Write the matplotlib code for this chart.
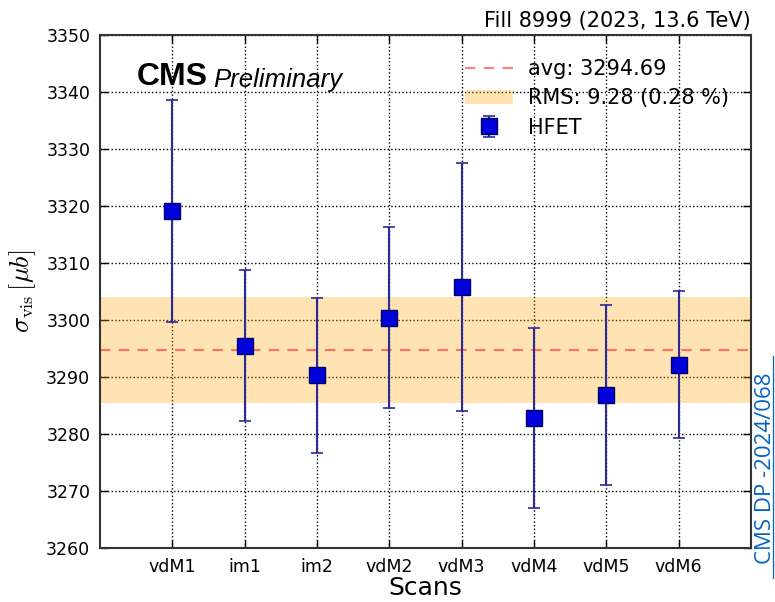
import numpy as np
import matplotlib
matplotlib.use("Agg")
import matplotlib.pyplot as plt
from matplotlib.lines import Line2D

plt.rcParams['mathtext.fontset'] = 'cm'
plt.rcParams['font.family'] = ['DejaVu Sans']

scans = ["vdM1", "im1", "im2", "vdM2", "vdM3", "vdM4", "vdM5", "vdM6"]
sigma_vis = [3319.1, 3295.5, 3290.3, 3300.4, 3305.8, 3282.8, 3286.8, 3292.1]
sigma_err = [19.5, 13.2, 13.6, 15.9, 21.8, 15.8, 15.8, 12.9]
avg = 3294.69
rms = 9.28
rms_pct = 0.28

fig = plt.figure(figsize=(7.75, 6.02), dpi=100)
ax = fig.add_axes([0.129, 0.09, 0.84, 0.852])

x = np.arange(len(scans))

ax.axhspan(avg - rms, avg + rms, color="orange", alpha=0.3, lw=0,
           label=f"RMS: {rms:.2f} ({rms_pct:.2f} %)")
ax.axhline(avg, color="red", alpha=0.5, ls="--", lw=1.5, dashes=(5, 4),
           label=f"avg: {avg:.2f}")
ax.errorbar(x, sigma_vis, yerr=sigma_err, fmt="s", color="#000099",
            ecolor="#2a2a9a", elinewidth=1.5, capsize=4, capthick=1.2,
            markersize=11, markerfacecolor="#0000dd", markeredgecolor="#000066",
            label="HFET", zorder=3)

ax.set_xlim(-1, 8)
ax.set_ylim(3260, 3350)
ax.set_xticks(x)
ax.set_xticklabels(scans)
ax.set_yticks(np.arange(3260, 3351, 10))
ax.tick_params(direction="in", top=True, right=True, length=6, width=1,
               labelsize=12.5, pad=7)
ax.grid(True, ls=":", color="black", lw=1)
ax.set_axisbelow(True)
for s in ax.spines.values():
    s.set_linewidth(1.5)
    s.set_color("#333333")

ax.set_xlabel("Scans", fontsize=18, labelpad=0)
ax.set_ylabel(r"$\sigma_{\rm vis}\,[\mu b]$", fontsize=19, labelpad=6)

ax.text(1.0, 1.008, "Fill 8999 (2023, 13.6 TeV)", transform=ax.transAxes,
        ha="right", va="bottom", fontsize=15)
ax.text(0.056, 0.917, "CMS", transform=ax.transAxes, fontsize=23,
        fontweight="bold", family="Liberation Sans", va="center")
ax.text(0.174, 0.913, "Preliminary", transform=ax.transAxes, fontsize=18.5,
        style="italic", family="Liberation Sans", va="center")

handles, labels = ax.get_legend_handles_labels()
order = [labels.index(l) for l in (f"avg: {avg:.2f}",
                                   f"RMS: {rms:.2f} ({rms_pct:.2f} %)",
                                   "HFET")]
ax.legend([handles[i] for i in order], [labels[i] for i in order],
          loc="upper right", frameon=False, fontsize=15, numpoints=1,
          handlelength=2.3, handletextpad=0.7, borderaxespad=0.5,
          labelspacing=0.45, bbox_to_anchor=(0.995, 0.99))

fig.text(0.9875, 0.223, "CMS DP -2024/068", rotation=90, color="#0563c1",
         fontsize=16, family="Open Sans", ha="center", va="center")
fig.add_artist(Line2D([0.9968, 0.9968], [0.04, 0.408], color="#0563c1", lw=0.9,
                      transform=fig.transFigure))

fig.savefig("out.png", dpi=100)
